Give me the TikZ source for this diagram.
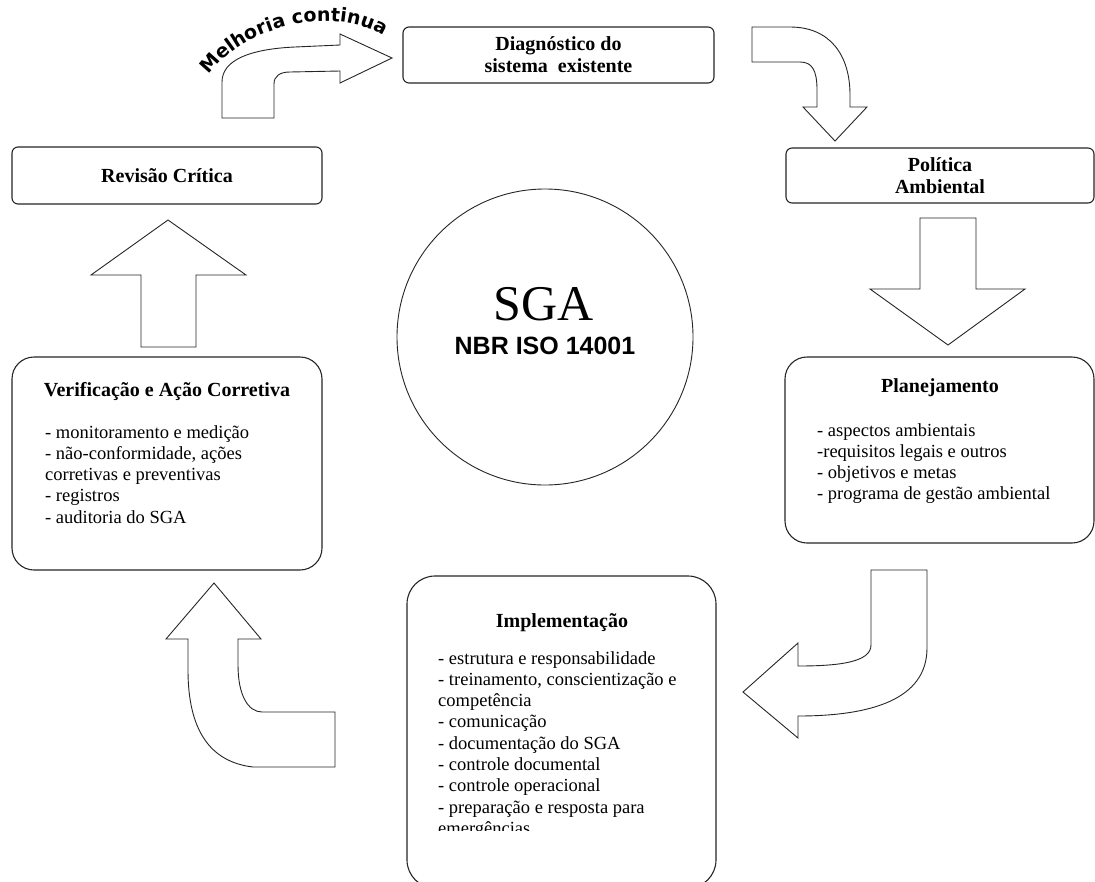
\documentclass[tikz,border=0pt]{standalone}
\usepackage{fontspec}
\setmainfont{Liberation Serif}
\newfontfamily\arialfont{Liberation Sans}
\newfontfamily\wordfont{DejaVu Sans}
\usetikzlibrary{decorations.text}

\begin{document}
\begin{tikzpicture}[x=1pt,y=-1pt]
\tikzstyle{every node}=[inner sep=0pt]
\tikzstyle{smallbox}=[draw=black!85, line width=1.1pt, rounded corners=6pt, font=\bfseries\fontsize{20}{22}\selectfont, align=center]
\tikzstyle{bigbox}=[draw=black!85, line width=1.1pt, rounded corners=22pt]
\tikzstyle{boxtitle}=[font=\bfseries\fontsize{20}{22}\selectfont, anchor=base]
\tikzstyle{itemlist}=[font=\fontsize{18.5}{21.3}\selectfont, align=left, anchor=north west]
\tikzstyle{blockarrow}=[draw=black!85, line width=0.9pt, fill=white, line join=miter]

\clip (0,0) rectangle (1095,881);
\fill[white] (0,0) rectangle (1095,881);

\node[smallbox, minimum width=311pt, minimum height=56pt] (diag) at (558.5,55) {Diagnóstico do\\sistema\ \ existente};
\node[smallbox, minimum width=308pt, minimum height=55pt] (pol) at (940,175.5) {Política\\Ambiental};
\node[smallbox, minimum width=310pt, minimum height=57pt] (rev) at (167,175.5) {Revisão Crítica};

\node[draw=black!85, line width=0.9pt, circle, minimum size=296pt] (sga) at (545,337) {};
\node[font=\fontsize{50}{50}\selectfont, anchor=base] (sgaT) at (544,320) {SGA};
\node[font=\arialfont\bfseries\fontsize{25}{25}\selectfont, anchor=base] (norma) at (545,354) {NBR ISO 14001};

\node[bigbox, minimum width=310pt, minimum height=213pt] (verif) at (167,463.5) {};
\node[bigbox, minimum width=309pt, minimum height=186pt] (plan) at (939.5,450) {};
\node[bigbox, rounded corners=28pt, minimum width=309pt, minimum height=312pt] (impl) at (561.5,732) {};

\node[boxtitle] (verifT) at (167,396) {Verificação e Ação Corretiva};
\node[boxtitle] (planT) at (940,392) {Planejamento};
\node[boxtitle] (implT) at (562,627) {Implementação};

\node[itemlist] (verifL) at (45,425) {- monitoramento e medição\\- não-conformidade, ações\\corretivas e preventivas\\- registros\\- auditoria do SGA};
\node[itemlist] (planL) at (817,423) {- aspectos ambientais\\-requisitos legais e outros\\- objetivos e metas\\- programa de gestão ambiental};
\begin{scope}
\clip (407,600) rectangle (716,830);
\node[itemlist] (implL) at (438,651) {- estrutura e responsabilidade\\- treinamento, conscientização e\\competência\\- comunicação\\- documentação do SGA\\- controle documental\\- controle operacional\\- preparação e resposta para\\emergências};
\end{scope}

\draw[blockarrow] (222,118) -- (222,82) .. controls (222,60) and (250,49) .. (295,47) -- (340,45) -- (340,34) -- (392,58) -- (340,83) -- (340,71) -- (290,72) .. controls (280,72) and (274,76) .. (274,84) -- (274,118) -- cycle;
\path[decorate, decoration={text along path, text align=center, text={|\wordfont\bfseries\fontsize{19}{19}\selectfont|Melhoria continua}}] (203,84) .. controls (236,26) and (340,0) .. (392,42);

\draw[blockarrow] (752,27) -- (790,27) .. controls (830,27) and (850,55) .. (850,95) -- (850,107) -- (867,107) -- (835,141) -- (803,107) -- (817,107) -- (817,90) .. controls (817,70) and (812,62) .. (800,62) -- (752,62) -- cycle;
\draw[blockarrow] (920,218) -- (976,218) -- (976,289) -- (1025,289) -- (948,345) -- (870,289) -- (920,289) -- cycle;
\draw[blockarrow] (871,570) -- (927,570) -- (927,648) .. controls (927,700) and (870,716) .. (798,716) -- (798,738) -- (743,692) -- (798,643) -- (798,666) .. controls (840,666) and (871,662) .. (871,645) -- cycle;
\draw[blockarrow] (335,712) -- (335,767) -- (253,767) .. controls (210,762) and (188,730) .. (188,670) -- (188,639) -- (166,639) -- (214,583) -- (261,639) -- (238,639) -- (238,665) .. controls (238,695) and (248,712) .. (262,712) -- cycle;
\draw[blockarrow] (141,347) -- (141,275) -- (91,275) -- (168,220) -- (246,275) -- (196,275) -- (196,347) -- cycle;
\end{tikzpicture}
\end{document}
